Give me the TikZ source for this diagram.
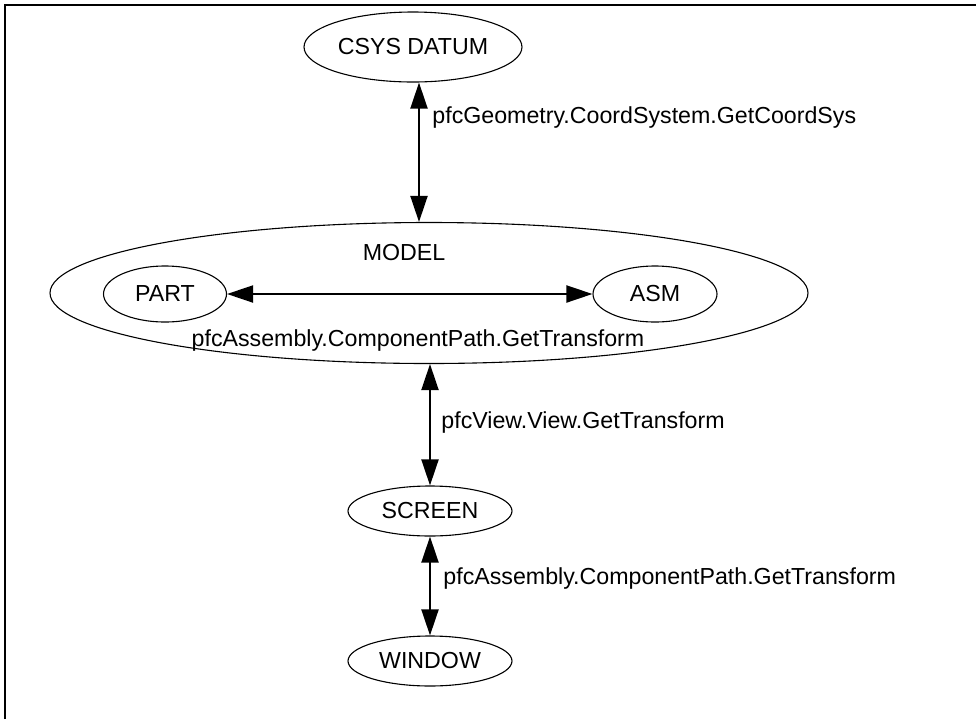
\documentclass[tikz,border=0pt]{standalone}
\usepackage{fontspec}
\setmainfont{Liberation Sans}
\usetikzlibrary{shapes.geometric,arrows.meta}
\begin{document}
\begin{tikzpicture}[x=0.5pt,y=-0.5pt,
  font=\fontsize{11.6}{14}\selectfont,
  oval/.style={draw,ellipse,line width=0.55pt,inner sep=0pt},
  dbl/.style={line width=1pt,{Triangle[length=13pt,width=8.5pt]}-{Triangle[length=13pt,width=8.5pt]}},
  lbl/.style={anchor=west,inner sep=0pt}]
\useasboundingbox (0,0) rectangle (976,719);
\draw[line width=1pt] (5,719) -- (5,5) -- (976,5);
\node[oval,minimum width=109pt,minimum height=35pt] (csys) at (413,47) {CSYS DATUM};
\node[oval,minimum width=379pt,minimum height=70.5pt] (model) at (429,293) {};
\node[inner sep=0pt] (mtext) at (404,253) {MODEL};
\node[oval,minimum width=61.5pt,minimum height=28pt] (part) at (165,294) {PART};
\node[oval,minimum width=62pt,minimum height=28pt] (asm) at (655,294) {ASM};
\node[oval,minimum width=82pt,minimum height=25pt] (screen) at (430,511) {SCREEN};
\node[oval,minimum width=82pt,minimum height=25pt] (window) at (430,661) {WINDOW};
\draw[dbl] ([xshift=3pt]csys.south) -- ([xshift=-5pt]model.north);
\draw[dbl] (part.east) -- (asm.west);
\draw[dbl] ([xshift=0.5pt]model.south) -- (screen.north);
\draw[dbl] (screen.south) -- (window.north);
\node[lbl] (l1) at (432,117) {pfcGeometry.CoordSystem.GetCoordSys};
\node[inner sep=0pt] (l2) at (418,340) {pfcAssembly.ComponentPath.GetTransform};
\node[lbl] (l3) at (441,422) {pfcView.View.GetTransform};
\node[lbl] (l4) at (443,578) {pfcAssembly.ComponentPath.GetTransform};
\end{tikzpicture}
\end{document}
